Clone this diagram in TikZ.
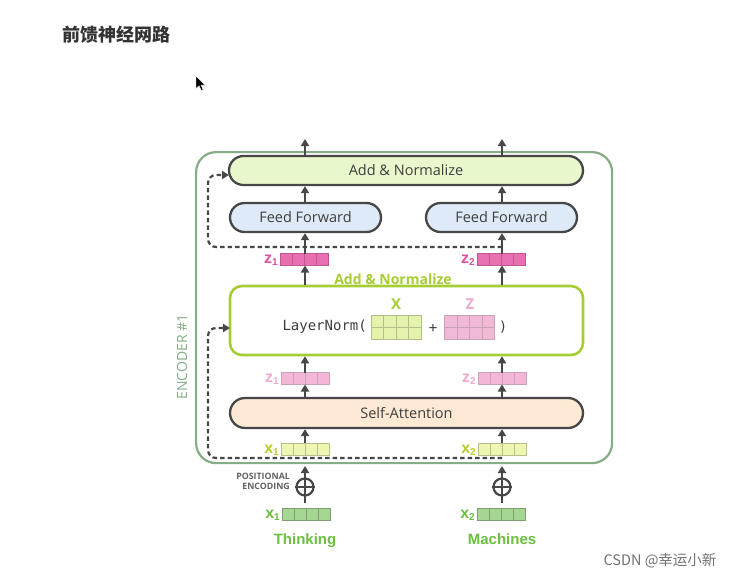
\documentclass[tikz,border=0pt]{standalone}
\usepackage{fontspec}
\setmainfont{Open Sans}
\newfontfamily\cjk{Noto Sans CJK SC}
\newfontfamily\arialf{Liberation Sans}
\newfontfamily\monof{DejaVu Sans Mono}
\usetikzlibrary{arrows.meta}
\definecolor{dk}{HTML}{474747}
\definecolor{txt}{HTML}{3E3E3E}
\definecolor{enc}{HTML}{86AE86}
\definecolor{addfill}{HTML}{E9F7CC}
\definecolor{fffill}{HTML}{DEEAF8}
\definecolor{safill}{HTML}{FDE9D4}
\definecolor{yg}{HTML}{A6CD33}
\definecolor{pkS}{HTML}{E86FB2}
\definecolor{pkSb}{HTML}{C25690}
\definecolor{pkSl}{HTML}{E0509E}
\definecolor{pkL}{HTML}{F3B6D6}
\definecolor{pkLb}{HTML}{C9A2B7}
\definecolor{pkLl}{HTML}{F0AACE}
\definecolor{xL}{HTML}{EEF6B2}
\definecolor{xLb}{HTML}{B7BD8C}
\definecolor{xLl}{HTML}{B9CC2C}
\definecolor{gC}{HTML}{A6D792}
\definecolor{gCb}{HTML}{7E9E72}
\definecolor{gl}{HTML}{6CBF3F}
\definecolor{gridX}{HTML}{E4F3AC}
\definecolor{gridZ}{HTML}{F2B9D6}
\tikzset{
  arr/.style={draw=dk, line width=2pt, -{Triangle[length=7pt,width=8pt]}},
  dsh/.style={draw=dk, line width=2.2pt, dash pattern=on 4.5pt off 3pt, rounded corners=8pt, -{Triangle[length=7pt,width=8pt]}},
  pill/.style={draw=dk, line width=2.3pt, rounded corners=14.5pt, minimum height=29pt, inner sep=0pt, font=\fontsize{14.5}{16}\selectfont, text=txt},
  cell/.style={line width=0.9pt, minimum width=48pt, minimum height=12pt, inner sep=0pt, outer sep=0pt},
  gridn/.style={line width=0.9pt, minimum width=50pt, minimum height=24pt, inner sep=0pt, outer sep=0pt},
}
\newcommand\sublab[2]{{\arialf\bfseries\fontsize{16}{16}\selectfont #1}\raisebox{-2pt}{\arialf\bfseries\fontsize{10}{10}\selectfont #2}}
\newcommand\cellrow[8]{%
  \node[cell, fill=#4, draw=#5] (#1) at (#2,#3) {};
  \foreach \k in {1,2,3} \draw[draw=#5, line width=0.9pt] ([xshift=\k*12pt]#1.north west) -- ([xshift=\k*12pt]#1.south west);
  \node[anchor=east, text=#6, inner sep=0pt] (#1lab) at ([xshift=-2pt,yshift=-1pt]#1.west) {\sublab{#7}{#8}};
}
\newcommand\gridbox[5]{%
  \node[gridn, fill=#4, draw=#5] (#1) at (#2,#3) {};
  \foreach \k in {1,2,3} \draw[draw=#5, line width=0.9pt] ([xshift=\k*12.5pt]#1.north west) -- ([xshift=\k*12.5pt]#1.south west);
  \draw[draw=#5, line width=0.9pt] (#1.west) -- (#1.east);
}
\begin{document}
\begin{tikzpicture}[x=1pt,y=-1pt]
\useasboundingbox[fill=white] (0,0) rectangle (745,579);
% title
\node[text=black!80, font=\cjk\bfseries\fontsize{18}{18}\selectfont, inner sep=0pt] (title) at (116,35) {前馈神经网路};
% cursor
\fill[black, draw=white, line width=0.4pt] (196,76) -- (196,88.5) -- (199,85.8) -- (201.3,90.5) -- (203.2,89.6) -- (201,85) -- (204.8,85) -- cycle;
% encoder box
\node[draw=enc, line width=2.2pt, rounded corners=20pt, minimum width=416pt, minimum height=311pt, anchor=north west, inner sep=0pt] (enc) at (195,151) {};
\node[rotate=90, text=enc, font=\fontsize{14}{14}\selectfont, inner sep=0pt] (enclab) at (182,357) {ENCODER \#1};
% top add & normalize
\node[pill, fill=addfill, minimum width=354pt] (addtop) at (406,170.5) {Add \& Normalize};
\node[pill, fill=fffill, minimum width=151pt] (ff1) at (305.5,217.5) {Feed Forward};
\node[pill, fill=fffill, minimum width=151pt] (ff2) at (501.5,217.5) {Feed Forward};
\coordinate (out1) at (305,139);
\coordinate (out2) at (502,139);
\draw[arr] (addtop.north -| out1) -- (out1);
\draw[arr] (addtop.north -| out2) -- (out2);
\draw[arr] (ff1.north -| out1) -- (addtop.south -| out1);
\draw[arr] (ff2.north -| out2) -- (addtop.south -| out2);
% z strong
\cellrow{zt1}{304}{259.5}{pkS}{pkSb}{pkSl}{z}{1}
\cellrow{zt2}{501}{259.5}{pkS}{pkSb}{pkSl}{z}{2}
\draw[arr] (zt1.north -| out1) -- (ff1.south -| out1);
\draw[arr] (zt2.north -| out2) -- (ff2.south -| out2);
% dashed residual 1
\coordinate (d1a) at (502,247);
\coordinate (d1b) at (208,247);
\coordinate (d1c) at (208,175);
\coordinate (d1d) at (229,175);
\draw[dsh] (d1a) -- (d1b) -- (d1c) -- (d1d);
% add & normalize label
\node[text=yg, font=\bfseries\fontsize{14}{14}\selectfont, inner sep=0pt] (anl) at (393,279) {Add \& Normalize};
% layernorm box
\node[draw=yg, line width=2.6pt, rounded corners=12pt, minimum width=353pt, minimum height=69pt, fill=white, inner sep=0pt] (ln) at (406.5,320.5) {};
\node[text=txt, font=\monof\fontsize{14}{14}\selectfont, anchor=east, inner sep=0pt] (lnt) at (367,327) {LayerNorm(};
\gridbox{gx}{396}{327}{gridX}{xLb}
\gridbox{gz}{469.5}{327}{gridZ}{pkLb}
\node[text=yg, font=\bfseries\fontsize{15}{15}\selectfont, inner sep=0pt] (xl) at (396,304) {X};
\node[text=pkLl, font=\bfseries\fontsize{15}{15}\selectfont, inner sep=0pt] (zl) at (470,304) {Z};
\node[text=txt, font=\monof\fontsize{14}{14}\selectfont, inner sep=0pt] (plus) at (433,328) {+};
\node[text=txt, font=\monof\fontsize{14}{14}\selectfont, inner sep=0pt] (rp) at (503,327) {)};
\draw[arr] (ln.north -| out1) -- (zt1.south -| out1);
\draw[arr] (ln.north -| out2) -- (zt2.south -| out2);
% z light
\cellrow{zl1}{305}{378.5}{pkL}{pkLb}{pkLl}{z}{1}
\cellrow{zl2}{502}{378.5}{pkL}{pkLb}{pkLl}{z}{2}
\draw[arr] (zl1.north -| out1) -- (ln.south -| out1);
\draw[arr] (zl2.north -| out2) -- (ln.south -| out2);
% self-attention
\node[pill, fill=safill, minimum width=353pt, minimum height=30pt, rounded corners=15pt] (sa) at (406.5,413) {Self-Attention};
\draw[arr] (sa.north -| out1) -- (zl1.south -| out1);
\draw[arr] (sa.north -| out2) -- (zl2.south -| out2);
% x light
\cellrow{xl1}{305}{449}{xL}{xLb}{xLl}{x}{1}
\cellrow{xl2}{502}{449}{xL}{xLb}{xLl}{x}{2}
\draw[arr] (xl1.north -| out1) -- (sa.south -| out1);
\draw[arr] (xl2.north -| out2) -- (sa.south -| out2);
% dashed residual 2
\coordinate (d2a) at (502,458);
\coordinate (d2b) at (208,458);
\coordinate (d2c) at (208,328);
\coordinate (d2d) at (230,328);
\draw[dsh] (d2a) -- (d2b) -- (d2c) -- (d2d);
% positional encoding
\node[draw=dk, line width=2.2pt, circle, minimum size=17pt, inner sep=0pt] (pe1) at (305,487) {};
\node[draw=dk, line width=2.2pt, circle, minimum size=17pt, inner sep=0pt] (pe2) at (502,487) {};
\draw[dk, line width=2.2pt] (pe1.north) -- (pe1.south) (pe1.west) -- (pe1.east);
\draw[dk, line width=2.2pt] (pe2.north) -- (pe2.south) (pe2.west) -- (pe2.east);
\coordinate (in1) at (305,466);
\coordinate (in2) at (502,466);
\draw[arr] (pe1.north) -- (in1);
\draw[arr] (pe2.north) -- (in2);
\node[align=right, anchor=east, text=black!62, font=\bfseries\fontsize{8.8}{10}\selectfont, inner sep=0pt] (pel) at (290,481) {POSITIONAL\\ENCODING};
% x green
\cellrow{xg1}{306}{514.5}{gC}{gCb}{gl}{x}{1}
\cellrow{xg2}{501}{514.5}{gC}{gCb}{gl}{x}{2}
\coordinate (b1) at (305,503);
\coordinate (b2) at (502,503);
\draw[dk, line width=2.2pt] (b1) -- (pe1.south);
\draw[dk, line width=2.2pt] (b2) -- (pe2.south);
\node[text=gl, font=\arialf\bfseries\fontsize{15}{16}\selectfont, inner sep=0pt, anchor=base] (w1) at (305,544) {Thinking};
\node[text=gl, font=\arialf\bfseries\fontsize{15}{16}\selectfont, inner sep=0pt, anchor=base] (w2) at (502,544) {Machines};
% watermark
\node[text=black!55, font=\cjk\fontsize{14.5}{15}\selectfont, inner sep=0pt] (wm) at (660,561) {CSDN @幸运小新};
\end{tikzpicture}
\end{document}
